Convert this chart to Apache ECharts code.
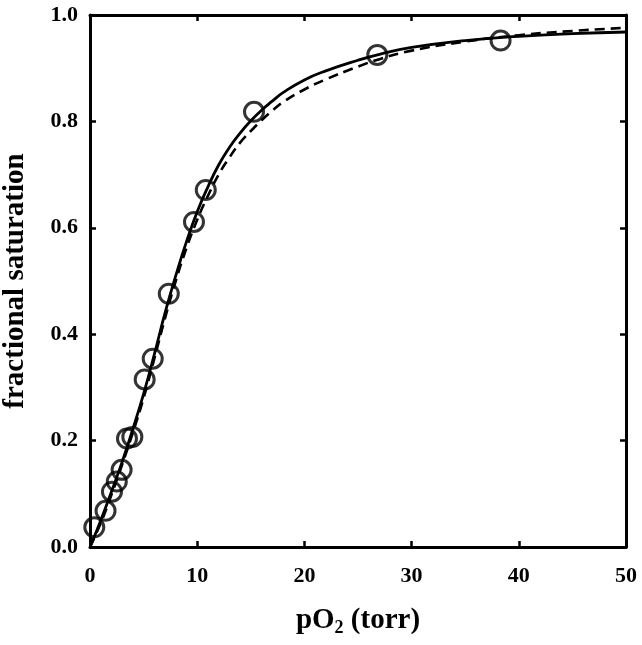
<!DOCTYPE html>
<html>
<head>
<meta charset="utf-8">
<script src="https://cdn.jsdelivr.net/npm/echarts@6/dist/echarts.min.js"></script>
<style>
  html, body { margin: 0; padding: 0; background: #fff; }
  #chart { width: 642px; height: 645px; }
</style>
</head>
<body>
<div id="chart"></div>
<script>
// measured points: pO2 (torr), fractional saturation
const pO2 = [0.4, 1.45, 2.05, 2.5, 2.95, 3.45, 3.95, 5.1, 5.85, 7.35, 9.7, 10.8, 15.3, 26.8, 38.3];
const saturation = [0.037, 0.068, 0.104, 0.123, 0.145, 0.204, 0.207, 0.315, 0.354, 0.476, 0.611, 0.671, 0.818, 0.925, 0.952];

// solid fit curve
const solidX = [0, 1, 2, 3, 4, 5, 6, 7, 8, 9, 10, 11, 12, 13, 14, 15, 16, 17, 18, 20, 22, 25, 27, 30, 35, 40, 45, 50];
const solidY = [0, 0.05, 0.104, 0.16, 0.222, 0.288, 0.362, 0.44, 0.51, 0.574, 0.63, 0.677, 0.718, 0.751, 0.778, 0.801, 0.821, 0.838, 0.854, 0.878, 0.895, 0.915, 0.926, 0.939, 0.952, 0.96, 0.965, 0.968];

// dashed fit curve
const dashX = [0, 1, 2, 3, 4, 5, 6, 7, 8, 9, 10, 11, 12, 13, 14, 15, 16, 17, 18, 20, 22, 25, 27, 30, 35, 40, 45, 50];
const dashY = [0, 0.045, 0.098, 0.155, 0.215, 0.28, 0.354, 0.43, 0.5, 0.562, 0.615, 0.66, 0.7, 0.732, 0.76, 0.782, 0.802, 0.82, 0.836, 0.86, 0.879, 0.903, 0.917, 0.933, 0.95, 0.962, 0.97, 0.976];

const xTicks = [0, 10, 20, 30, 40, 50];
const yTicks = [0.0, 0.2, 0.4, 0.6, 0.8, 1.0];

const font = "Liberation Serif";
const pair = (xs, ys) => xs.map((x, i) => [x, ys[i]]);

const chart = echarts.init(document.getElementById("chart"));

const frameLine = { show: true, onZero: false, lineStyle: { color: "#000", width: 3 } };
const innerTick = { show: true, inside: true, length: 6, lineStyle: { color: "#000", width: 2.5 } };

chart.setOption({
  animation: false,
  grid: { left: 90, right: 16, top: 15, bottom: 98, outerBoundsMode: "none", containLabel: false },
  xAxis: [
    {
      type: "value",
      min: 0,
      max: 50,
      interval: 10,
      axisLine: frameLine,
      axisTick: innerTick,
      splitLine: { show: false },
      axisLabel: {
        margin: 18,
        color: "#000",
        fontFamily: font,
        fontWeight: "bold",
        fontSize: 22,
        formatter: v => (xTicks.indexOf(v) >= 0 ? String(v) : "")
      },
      name: "pO{sub|2} (torr)",
      nameLocation: "middle",
      nameGap: 58,
      nameTextStyle: {
        color: "#000",
        fontFamily: font,
        fontWeight: "bold",
        fontSize: 29,
        rich: {
          sub: { fontFamily: font, fontWeight: "bold", fontSize: 18, color: "#000", padding: [14, 0, 0, 0] }
        }
      }
    },
    {
      type: "value",
      position: "top",
      min: 0,
      max: 50,
      interval: 10,
      axisLine: frameLine,
      axisTick: innerTick,
      axisLabel: { show: false },
      splitLine: { show: false }
    }
  ],
  yAxis: [
    {
      type: "value",
      min: 0,
      max: 1,
      interval: 0.2,
      axisLine: frameLine,
      axisTick: innerTick,
      splitLine: { show: false },
      axisLabel: {
        margin: 12,
        color: "#000",
        fontFamily: font,
        fontWeight: "bold",
        fontSize: 22,
        formatter: v => yTicks.find(t => Math.abs(t - v) < 1e-6).toFixed(1)
      },
      name: "fractional saturation",
      nameLocation: "middle",
      nameGap: 60,
      nameTextStyle: {
        color: "#000",
        fontFamily: font,
        fontWeight: "bold",
        fontSize: 29
      }
    },
    {
      type: "value",
      position: "right",
      min: 0,
      max: 1,
      interval: 0.2,
      axisLine: frameLine,
      axisTick: innerTick,
      axisLabel: { show: false },
      splitLine: { show: false }
    }
  ],
  series: [
    {
      name: "fit",
      type: "line",
      data: pair(solidX, solidY),
      smooth: true,
      showSymbol: false,
      lineStyle: { color: "#000", width: 2.8 },
      silent: true
    },
    {
      name: "fit2",
      type: "line",
      data: pair(dashX, dashY),
      smooth: true,
      showSymbol: false,
      lineStyle: { color: "#000", width: 2.6, type: [10, 6] },
      silent: true
    },
    {
      name: "data",
      type: "scatter",
      data: pair(pO2, saturation),
      symbol: "circle",
      symbolSize: 19,
      itemStyle: { color: "rgba(0,0,0,0)", borderColor: "#000", borderWidth: 3 },
      silent: true,
      z: 5
    }
  ]
});
</script>
</body>
</html>
